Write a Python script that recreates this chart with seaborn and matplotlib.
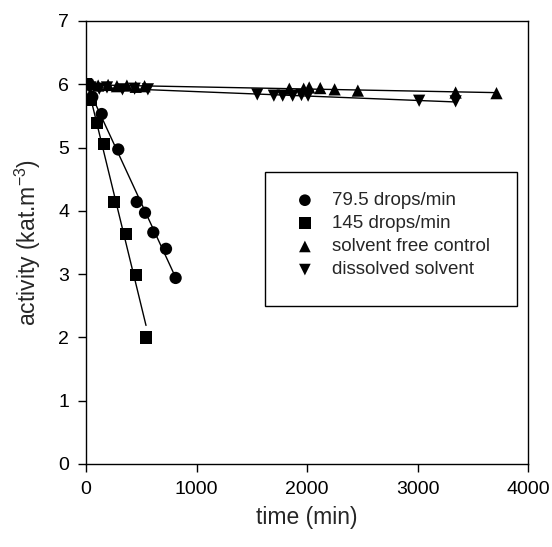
import numpy as np
import pandas as pd
import matplotlib
matplotlib.use('Agg')
import matplotlib.pyplot as plt
from matplotlib.patches import Rectangle
import seaborn as sns

# ── data ───────────────────────────────────────────────────────────────────
circ_t = [0, 57, 142, 292, 459, 534, 609, 724, 811]
circ_a = [6.00, 5.80, 5.53, 4.97, 4.14, 3.97, 3.66, 3.40, 2.94]

sq_t = [0, 45, 97, 163, 253, 359, 452, 543]
sq_a = [6.00, 5.75, 5.39, 5.06, 4.14, 3.64, 2.99, 2.00]

ctrl_t = [0, 60, 110, 200, 280, 370, 450, 530, 1840, 1970, 2020, 2120, 2250, 2460, 3345, 3715]
ctrl_a = [6.00, 6.00, 5.98, 5.99, 5.97, 5.98, 5.96, 5.97, 5.93, 5.93, 5.95, 5.94, 5.92, 5.90, 5.87, 5.86]

diss_t = [0, 40, 120, 190, 330, 440, 560, 1550, 1700, 1780, 1870, 1950, 2010, 3015, 3345]
diss_a = [5.97, 5.95, 5.93, 5.95, 5.92, 5.93, 5.92, 5.84, 5.82, 5.82, 5.82, 5.83, 5.82, 5.74, 5.73]

series = [
    ("79.5 drops/min", circ_t, circ_a, "o"),
    ("145 drops/min", sq_t, sq_a, "s"),
    ("solvent free control", ctrl_t, ctrl_a, "^"),
    ("dissolved solvent", diss_t, diss_a, "v"),
]

# ── style ───────────────────────────────────────────────────────────────────
sns.set_style("ticks")
plt.rcParams['font.family'] = ['Liberation Sans', 'DejaVu Sans']
plt.rcParams['mathtext.default'] = 'regular'
plt.rcParams['axes.linewidth'] = 1.0

fig = plt.figure(figsize=(5.52, 5.47), dpi=100)
ax = fig.add_axes([86 / 552, 1 - 464 / 547, 442 / 552, 443 / 547])

for label, t, a, m in series:
    df = pd.DataFrame({"time": t, "activity": a})
    sns.regplot(data=df, x="time", y="activity", ax=ax, ci=None, marker=m,
                color="black", label=label,
                scatter_kws={"s": 78, "alpha": 1, "edgecolors": "none"},
                line_kws={"lw": 1.0})

ax.set_xlim(0, 4000)
ax.set_ylim(0, 7)
ax.set_xticks([0, 1000, 2000, 3000, 4000])
ax.set_yticks(range(0, 8))
ax.tick_params(direction='out', length=6, width=1, labelsize=14,
               colors='black', pad=6)
for s in ax.spines.values():
    s.set_visible(True)
    s.set_color('black')

ax.set_xlabel("time (min)", fontsize=16.5, labelpad=6)
ax.set_ylabel("activity (kat.m$^{-3}$)", fontsize=16.5, labelpad=11)

# legend box drawn separately so its padding can match the original
ax.add_patch(Rectangle((0.405, 0.357), 0.570, 0.302, transform=ax.transAxes,
                       facecolor='white', edgecolor='black', lw=1.0, zorder=4.5))
leg = ax.legend(loc='upper left', bbox_to_anchor=(0.474, 0.614),
                fontsize=13.5, frameon=False, borderpad=0, labelspacing=0.32,
                handlelength=1.0, handletextpad=0.94, borderaxespad=0,
                markerscale=0.95, scatterpoints=1)

fig.savefig("out.png", dpi=100)
